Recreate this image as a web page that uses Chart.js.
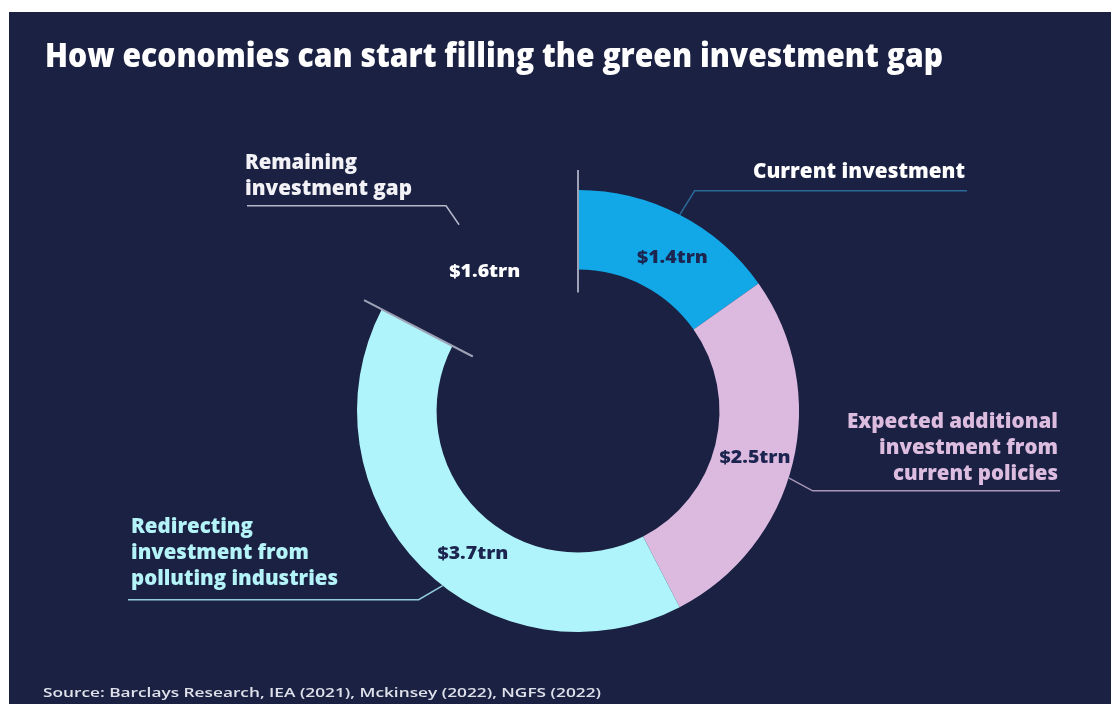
<!DOCTYPE html>
<html>
<head>
<meta charset="utf-8">
<script src="https://cdn.jsdelivr.net/npm/chart.js@4.4.1/dist/chart.umd.min.js"></script>
<style>
  html, body { margin: 0; padding: 0; background: #ffffff; width: 1111px; height: 704px; overflow: hidden; }
  #bg { position: absolute; left: 9px; top: 12px; width: 1102px; height: 692px; background: #1b2143; }
  #c { position: absolute; left: 0; top: 0; }
  #s { position: absolute; left: 0; top: 0; }
  text { font-family: 'Open Sans', 'DejaVu Sans', sans-serif; }
</style>
</head>
<body>
<div id="bg"></div>
<canvas id="c" width="1111" height="704"></canvas>
<svg id="s" width="1111" height="704" xmlns="http://www.w3.org/2000/svg"></svg>
<script>
// ---------------- DATA ----------------
const titleText = 'How economies can start filling the green investment gap';
const sourceText = 'Source: Barclays Research, IEA (2021), Mckinsey (2022), NGFS (2022)';
const categories = [
  ['Current investment'],
  ['Expected additional', 'investment from', 'current policies'],
  ['Redirecting', 'investment from', 'polluting industries'],
  ['Remaining', 'investment gap']
];
const values = [1.4, 2.5, 3.7, 1.6];           // $ trillion
const valuePrefix = '$';
const valueSuffix = 'trn';

// ---------------- STYLE ----------------
const segmentColors = ['#12a8e8', '#dcbadf', '#aff4fa', 'rgba(0,0,0,0)'];
const valueLabelColors = ['#1c2550', '#1c2550', '#1c2550', '#ffffff'];
const valueLabelOffsets = [[11, 7], [1, 3], [23, 14], [1, 15]];
const categoryStyles = [
  { x: 753, anchor: 'start', baselines: [178], widths: [212], color: '#ffffff' },
  { x: 1058, anchor: 'end', baselines: [428, 454, 480], widths: [211, 179, 165], color: '#dcbde0' },
  { x: 131, anchor: 'start', baselines: [533, 559, 585], widths: [122, 178, 207], color: '#b4f3f8' },
  { x: 245, anchor: 'start', baselines: [169, 195], widths: [112, 167], color: '#f2f2f6' }
];
// leader: fraction along arc for anchor, elbow offset from anchor, x where horizontal ends
const leaders = [
  { frac: 0.5, dx: 15, dy: -24, endX: 967, color: '#2b6a98' },
  { frac: 0.54, dx: 24, dy: 13, endX: 1060, color: '#a996b8' },
  { frac: 0.45, dx: -24, dy: 14, endX: 128, color: '#93cddb' },
  { frac: 0.48, dx: -13, dy: -19, endX: 247, color: '#b6b9c9' }
];

const SVGNS = 'http://www.w3.org/2000/svg';
const svg = document.getElementById('s');
function addText(str, x, y, opts) {
  const t = document.createElementNS(SVGNS, 'text');
  t.setAttribute('x', x);
  t.setAttribute('y', y);
  t.setAttribute('fill', opts.color);
  t.setAttribute('font-size', opts.size);
  t.setAttribute('font-weight', opts.weight || '800');
  t.setAttribute('text-anchor', opts.anchor || 'start');
  if (opts.width) {
    t.setAttribute('textLength', opts.width);
    t.setAttribute('lengthAdjust', 'spacingAndGlyphs');
  }
  t.textContent = str;
  svg.appendChild(t);
  return t;
}

// title & source
addText(titleText, 45, 67, { color: '#ffffff', size: 33, width: 898 });
addText(sourceText, 43, 697, { color: '#dfe1ea', size: 13, weight: '600', width: 558 });

// category labels
categories.forEach((lines, i) => {
  const st = categoryStyles[i];
  lines.forEach((ln, j) => {
    addText(ln, st.x, st.baselines[j], { color: st.color, size: 21, anchor: st.anchor, width: st.widths[j] });
  });
});

// value labels (positioned from arc geometry after draw)
const valueTexts = values.map((v, i) =>
  addText(valuePrefix + v.toFixed(1) + valueSuffix, 0, 0,
    { color: valueLabelColors[i], size: 17, anchor: 'middle', width: 71 }));

const overlayPlugin = {
  id: 'overlay',
  afterDatasetsDraw(chart) {
    const ctx = chart.ctx;
    const arcs = chart.getDatasetMeta(0).data;
    ctx.save();
    ctx.lineCap = 'butt';
    // boundary ticks around the gap segment
    const first = arcs[0], third = arcs[2];
    const ticks = [first.startAngle, third.endAngle];
    ctx.strokeStyle = '#9ea2b7';
    ctx.lineWidth = 2;
    ticks.forEach(a => {
      const r0 = first.innerRadius - 23, r1 = first.outerRadius + 20;
      ctx.beginPath();
      ctx.moveTo(first.x + r0 * Math.cos(a), first.y + r0 * Math.sin(a));
      ctx.lineTo(first.x + r1 * Math.cos(a), first.y + r1 * Math.sin(a));
      ctx.stroke();
    });
    // leader lines
    ctx.lineWidth = 1.5;
    leaders.forEach((ld, i) => {
      const arc = arcs[i];
      const a = arc.startAngle + ld.frac * (arc.endAngle - arc.startAngle);
      const ax = arc.x + arc.outerRadius * Math.cos(a);
      const ay = arc.y + arc.outerRadius * Math.sin(a);
      ctx.strokeStyle = ld.color;
      ctx.beginPath();
      ctx.moveTo(ax, ay);
      ctx.lineTo(ax + ld.dx, ay + ld.dy);
      ctx.lineTo(ld.endX, ay + ld.dy);
      ctx.stroke();
    });
    ctx.restore();
    // value labels
    arcs.forEach((arc, i) => {
      const a = (arc.startAngle + arc.endAngle) / 2;
      const r = (arc.innerRadius + arc.outerRadius) / 2;
      const x = arc.x + r * Math.cos(a) + valueLabelOffsets[i][0];
      const y = arc.y + r * Math.sin(a) + valueLabelOffsets[i][1] + 6;
      valueTexts[i].setAttribute('x', x.toFixed(1));
      valueTexts[i].setAttribute('y', y.toFixed(1));
    });
  }
};

new Chart(document.getElementById('c'), {
  type: 'doughnut',
  data: {
    labels: categories,
    datasets: [{
      data: values,
      backgroundColor: segmentColors,
      borderWidth: 0,
      hoverBorderWidth: 0,
      hoverOffset: 0,
      offset: 0
    }]
  },
  options: {
    responsive: false,
    devicePixelRatio: 1,
    animation: false,
    events: [],
    cutout: '64%',
    rotation: 0,
    layout: { padding: { left: 357, right: 312, top: 190, bottom: 72 } },
    plugins: { legend: { display: false }, tooltip: { enabled: false }, title: { display: false } }
  },
  plugins: [overlayPlugin]
});
</script>
</body>
</html>
